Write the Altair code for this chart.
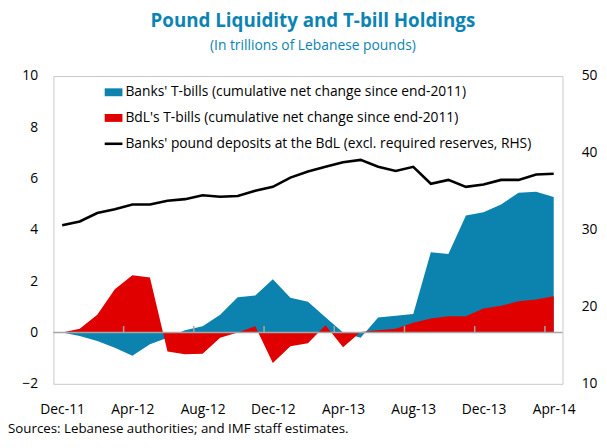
import altair as alt
import pandas as pd

months = ["Dec-11","Jan-12","Feb-12","Mar-12","Apr-12","May-12","Jun-12","Jul-12","Aug-12",
          "Sep-12","Oct-12","Nov-12","Dec-12","Jan-13","Feb-13","Mar-13","Apr-13","May-13",
          "Jun-13","Jul-13","Aug-13","Sep-13","Oct-13","Nov-13","Dec-13","Jan-14","Feb-14",
          "Mar-14","Apr-14"]
banks_tbills = [0.0, -0.14, -0.33, -0.59, -0.91, -0.46, -0.2, 0.09, 0.24, 0.69, 1.38, 1.44,
                2.08, 1.36, 1.2, 0.6, 0.0, -0.2, 0.59, 0.65, 0.72, 3.13, 3.06, 4.56, 4.69,
                4.99, 5.45, 5.49, 5.28]
bdl_tbills = [0.0, 0.15, 0.69, 1.69, 2.23, 2.15, -0.74, -0.85, -0.83, -0.2, 0.0, 0.24,
              -1.19, -0.53, -0.42, 0.28, -0.57, 0.02, 0.09, 0.15, 0.38, 0.55, 0.63, 0.63,
              0.94, 1.04, 1.22, 1.29, 1.41]
deposits = [30.6, 31.1, 32.2, 32.7, 33.3, 33.3, 33.8, 34.0, 34.5, 34.3, 34.4, 35.1, 35.6,
            36.8, 37.6, 38.2, 38.8, 39.1, 38.2, 37.65, 38.2, 36.0, 36.5, 35.6, 35.9, 36.5,
            36.5, 37.2, 37.3]
tick_labels = ["Dec-11","Apr-12","Aug-12","Dec-12","Apr-13","Aug-13","Dec-13","Apr-14"]
legend_labels = ["Banks' T-bills (cumulative net change since end-2011)",
                 "BdL's T-bills (cumulative net change since end-2011)",
                 "Banks' pound deposits at the BdL (excl. required reserves, RHS)"]

BLUE = "#0b83ae"
RED = "#e00000"
FONT = "Open Sans"
TITLE_COLOR = "#0b84b4"

df = pd.DataFrame({"i": list(range(len(months))), "month": months,
                   "banks": banks_tbills, "bdl": bdl_tbills, "dep": deposits})
ticks_df = pd.DataFrame({"t": [3.5 + 4 * k for k in range(7)]})

label_arr = "[" + ",".join("'%s'" % t for t in tick_labels) + "]"

xscale = alt.Scale(domain=[-0.5, len(months) - 0.5], nice=False, zero=False)
xaxis = alt.Axis(values=list(range(0, len(months), 4)), labelExpr=label_arr + "[datum.value/4]",
                 ticks=False, domain=False, grid=False, labelPadding=19, title=None,
                 labelFontSize=14, labelFont=FONT, labelColor="#000")
yscale = alt.Scale(domain=[-2, 10], nice=False)
yaxis = alt.Axis(values=list(range(-2, 11, 2)), ticks=False, domain=False, grid=False,
                 labelPadding=16, title=None, labelFontSize=14, labelFont=FONT, labelColor="#000")
raxis = alt.Axis(orient="right", values=[10, 20, 30, 40, 50], ticks=False, domain=False,
                 grid=False, labelPadding=19, title=None, labelFontSize=14,
                 labelFont=FONT, labelColor="#000")

base = alt.Chart(df)

def X(field):
    return alt.X(field, scale=xscale, axis=xaxis)

def Y(field):
    return alt.Y(field, scale=yscale, axis=yaxis)

blue = base.mark_area(color=BLUE, opacity=1).encode(x=X("i:Q"), y=Y("banks:Q"), y2=alt.datum(0))
red = base.mark_area(color=RED, opacity=1).encode(x=X("i:Q"), y=Y("bdl:Q"), y2=alt.datum(0))
zero = alt.Chart(pd.DataFrame({"z": [0]})).mark_rule(color="#a6a6a6", strokeWidth=1.5).encode(
    y=Y("z:Q"))
tk = alt.Chart(ticks_df).mark_rule(color="#a6a6a6", strokeWidth=1.5).encode(
    x=X("t:Q"), y=alt.datum(0), y2=alt.datum(0.25))

left = alt.layer(blue, red, zero, tk)

line = base.mark_line(color="#000", strokeWidth=2.6).encode(
    x=X("i:Q"),
    y=alt.Y("dep:Q", scale=alt.Scale(domain=[10, 50], nice=False), axis=raxis))

# legend
leg_items = []
one = pd.DataFrame({"k": [0]})
leg_items.append(alt.Chart(one).mark_rect(color=BLUE).encode(
    x=alt.value(52), x2=alt.value(70), y=alt.value(12.5), y2=alt.value(20.5)))
leg_items.append(alt.Chart(one).mark_rect(color=RED).encode(
    x=alt.value(52), x2=alt.value(70), y=alt.value(38.5), y2=alt.value(46.5)))
leg_items.append(alt.Chart(one).mark_rule(color="#000", strokeWidth=2.6).encode(
    x=alt.value(52), x2=alt.value(70), y=alt.value(68.7)))
for lab, yy in zip(legend_labels, [16.5, 42.5, 69]):
    leg_items.append(alt.Chart(one).mark_text(
        text=lab, align="left", baseline="middle", font=FONT, fontSize=14, color="#000"
    ).encode(x=alt.value(73), y=alt.value(yy)))

source = alt.Chart(one).mark_text(
    text="Sources: Lebanese authorities; and IMF staff estimates.", align="left",
    baseline="alphabetic", font=FONT, fontSize=13.5, color="#000"
).encode(x=alt.value(-46), y=alt.value(362))

chart = alt.layer(left, line, *leg_items, source).resolve_scale(y="independent").properties(
    width=516, height=312,
    title=alt.Title("Pound Liquidity and T-bill Holdings",
                    subtitle="(In trillions of Lebanese pounds)",
                    anchor="middle", font=FONT, fontSize=19, fontWeight="bold", color=TITLE_COLOR,
                    subtitleFont=FONT, subtitleFontSize=14, subtitleColor=TITLE_COLOR,
                    subtitlePadding=9, offset=16, dx=5),
    autosize=alt.AutoSizeParams(type="none"),
    padding={"left": 46, "top": 66, "right": 37, "bottom": 54},
).configure_view(stroke="#c8c8c8", strokeWidth=1)

chart.save("out.html", embed_options={"renderer": "svg", "actions": False})
